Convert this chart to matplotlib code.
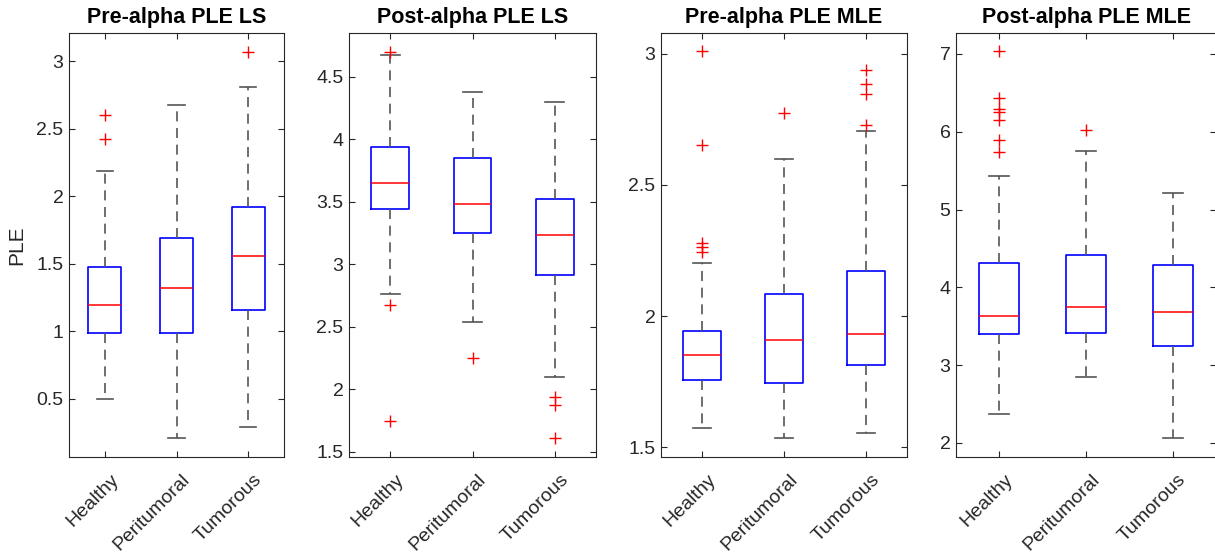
import matplotlib.pyplot as plt
from matplotlib.transforms import ScaledTranslation

plt.rcParams['font.family'] = ['Liberation Sans', 'DejaVu Sans']

groups = ['Healthy', 'Peritumoral', 'Tumorous']
titles = ['Pre-alpha PLE LS', 'Post-alpha PLE LS', 'Pre-alpha PLE MLE', 'Post-alpha PLE MLE']

# box stats: [lower whisker, Q1, median, Q3, upper whisker]
pre_ls = [[0.50, 0.986, 1.196, 1.474, 2.186],
          [0.212, 0.991, 1.325, 1.695, 2.679],
          [0.290, 1.159, 1.559, 1.918, 2.811]]
pre_ls_out = [[2.606, 2.422], [], [3.071]]

post_ls = [[2.762, 3.439, 3.652, 3.937, 4.679],
           [2.534, 3.248, 3.481, 3.852, 4.377],
           [2.096, 2.916, 3.235, 3.519, 4.301]]
post_ls_out = [[4.699, 2.671, 1.748], [2.252], [1.934, 1.877, 1.607]]

pre_mle = [[1.573, 1.754, 1.851, 1.941, 2.204],
           [1.534, 1.743, 1.907, 2.085, 2.600],
           [1.552, 1.814, 1.931, 2.170, 2.706]]
pre_mle_out = [[3.010, 2.652, 2.278, 2.262, 2.246], [2.776], [2.939, 2.884, 2.848, 2.728]]

post_mle = [[2.366, 3.399, 3.637, 4.307, 5.430],
            [2.845, 3.409, 3.745, 4.411, 5.749],
            [2.060, 3.247, 3.685, 4.288, 5.215]]
post_mle_out = [[7.033, 6.430, 6.293, 6.256, 6.156, 5.896, 5.736], [6.023], []]

all_stats = [pre_ls, post_ls, pre_mle, post_mle]
all_out = [pre_ls_out, post_ls_out, pre_mle_out, post_mle_out]
ylims = [(0.07, 3.21), (1.457, 4.852), (1.462, 3.080), (1.818, 7.27)]
yticks = [[0.5, 1, 1.5, 2, 2.5, 3], [1.5, 2, 2.5, 3, 3.5, 4, 4.5],
          [1.5, 2, 2.5, 3], [2, 3, 4, 5, 6, 7]]
yticklabels = [['0.5', '1', '1.5', '2', '2.5', '3'],
               ['1.5', '2', '2.5', '3', '3.5', '4', '4.5'],
               ['1.5', '2', '2.5', '3'],
               ['2', '3', '4', '5', '6', '7']]

# axes positions in pixels (left, right) of 1215 wide figure
W, H = 1215, 556
lefts = [69, 349, 661, 956]
rights = [284, 596, 907, 1216]
top, bottom = 33, 457

fig = plt.figure(figsize=(12.15, 5.56), dpi=100)
dark = '#262626'

for i in range(4):
    ax = fig.add_axes([lefts[i] / W, 1 - bottom / H, (rights[i] - lefts[i]) / W, (bottom - top) / H])
    stats = []
    for j, s in enumerate(all_stats[i]):
        stats.append({'whislo': s[0], 'q1': s[1], 'med': s[2], 'q3': s[3], 'whishi': s[4],
                      'fliers': all_out[i][j], 'label': groups[j]})
    ax.bxp(stats, positions=[1, 2, 3], widths=0.46, capwidths=0.23,
           boxprops=dict(color='#0000ff', linewidth=1.2),
           medianprops=dict(color='#ff0000', linewidth=1.1),
           whiskerprops=dict(color='#555555', linewidth=1.2, linestyle=(0, (6, 4))),
           capprops=dict(color='#555555', linewidth=1.2),
           flierprops=dict(marker='+', markeredgecolor='#ff0000', markersize=8,
                           markeredgewidth=1.0, linestyle='none'))
    ax.set_xlim(0.5, 3.5)
    ax.set_ylim(*ylims[i])
    ax.set_yticks(yticks[i])
    ax.set_yticklabels(yticklabels[i])
    ax.set_xticks([1, 2, 3])
    ax.set_xticklabels(groups)
    ax.tick_params(direction='in', top=True, right=True, length=4, width=0.8,
                   colors=dark, labelsize=14, labelcolor=dark)
    ax.tick_params(axis='y', pad=4)
    ax.tick_params(axis='x', pad=0)
    for lab in ax.get_xticklabels():
        lab.set_rotation(45)
        lab.set_ha('right')
        lab.set_va('top')
        lab.set_rotation_mode('anchor')
        lab.set_transform(lab.get_transform() + ScaledTranslation(0.05, -0.14, fig.dpi_scale_trans))
    for sp in ax.spines.values():
        sp.set_color(dark)
        sp.set_linewidth(0.8)
    ax.set_title(titles[i], fontsize=15.5, fontweight='bold', pad=7)
    if i == 0:
        ax.set_ylabel('PLE', fontsize=15, color=dark, labelpad=7)

fig.savefig('out.png', dpi=100)
